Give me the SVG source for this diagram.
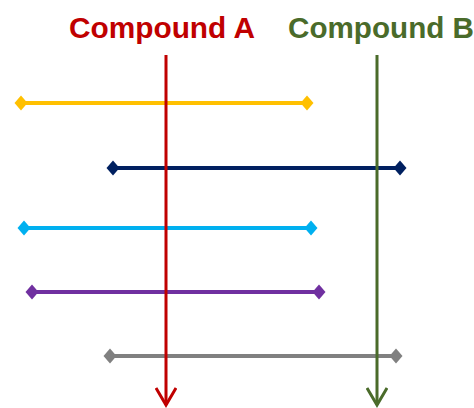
<svg xmlns="http://www.w3.org/2000/svg" width="474" height="408" viewBox="0 0 474 408">
<style>
.t{font-family:"Liberation Sans",Arial,sans-serif;font-weight:bold;font-size:29px}
.h{stroke-width:4;fill:none}
.v{stroke-width:3;fill:none}
</style>
<defs>
<marker id="dY" markerUnits="userSpaceOnUse" markerWidth="16" markerHeight="18" refX="8" refY="9" orient="0"><path d="M1.5,9 L8,1.5 L14.5,9 L8,16.5Z" fill="#FFC000"/></marker>
<marker id="dN" markerUnits="userSpaceOnUse" markerWidth="16" markerHeight="18" refX="8" refY="9" orient="0"><path d="M1.5,9 L8,1.5 L14.5,9 L8,16.5Z" fill="#002060"/></marker>
<marker id="dC" markerUnits="userSpaceOnUse" markerWidth="16" markerHeight="18" refX="8" refY="9" orient="0"><path d="M1.5,9 L8,1.5 L14.5,9 L8,16.5Z" fill="#00B0F0"/></marker>
<marker id="dP" markerUnits="userSpaceOnUse" markerWidth="16" markerHeight="18" refX="8" refY="9" orient="0"><path d="M1.5,9 L8,1.5 L14.5,9 L8,16.5Z" fill="#7030A0"/></marker>
<marker id="dG" markerUnits="userSpaceOnUse" markerWidth="16" markerHeight="18" refX="8" refY="9" orient="0"><path d="M1.5,9 L8,1.5 L14.5,9 L8,16.5Z" fill="#808080"/></marker>
<marker id="aR" markerUnits="userSpaceOnUse" markerWidth="26" markerHeight="22" refX="20" refY="11" orient="auto"><path d="M3,1 L20,11 L3,21" fill="none" stroke="#C00000" stroke-width="3"/></marker>
<marker id="aG" markerUnits="userSpaceOnUse" markerWidth="26" markerHeight="22" refX="20" refY="11" orient="auto"><path d="M3,1 L20,11 L3,21" fill="none" stroke="#4A6B2A" stroke-width="3"/></marker>
</defs>
<g id="labels">
<text id="labelA" class="t" x="69" y="38" fill="#C00000" textLength="186" lengthAdjust="spacingAndGlyphs">Compound A</text>
<text id="labelB" class="t" x="288" y="38" fill="#4A6B2A" textLength="186" lengthAdjust="spacingAndGlyphs">Compound B</text>
</g>
<g id="connectors">
<line class="h" x1="21" y1="103" x2="307" y2="103" stroke="#FFC000" marker-start="url(#dY)" marker-end="url(#dY)"/>
<line class="h" x1="113" y1="168" x2="400" y2="168" stroke="#002060" marker-start="url(#dN)" marker-end="url(#dN)"/>
<line class="h" x1="24" y1="228" x2="311" y2="228" stroke="#00B0F0" marker-start="url(#dC)" marker-end="url(#dC)"/>
<line class="h" x1="32" y1="292" x2="319" y2="292" stroke="#7030A0" marker-start="url(#dP)" marker-end="url(#dP)"/>
<line class="h" x1="110" y1="356" x2="396" y2="356" stroke="#808080" marker-start="url(#dG)" marker-end="url(#dG)"/>
<line class="v" x1="166" y1="55" x2="166" y2="405" stroke="#C00000" marker-end="url(#aR)"/>
<line class="v" x1="377" y1="55" x2="377" y2="405" stroke="#4A6B2A" marker-end="url(#aG)"/>
</g>
</svg>
